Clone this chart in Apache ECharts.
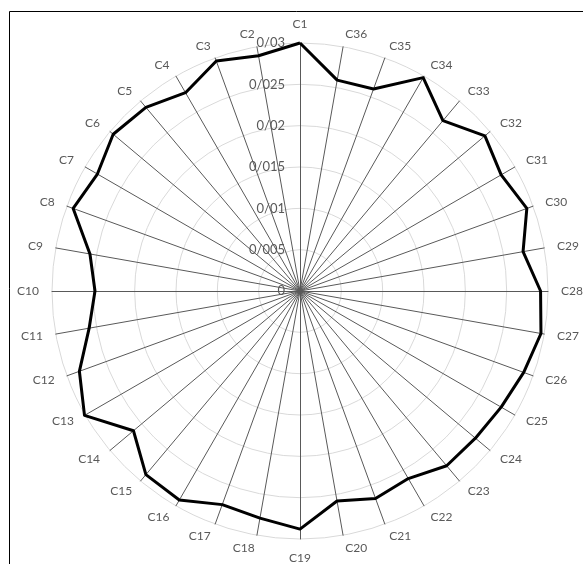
<!DOCTYPE html>
<html>
<head>
<meta charset="utf-8">
<script src="https://cdn.jsdelivr.net/npm/echarts@6/dist/echarts.min.js"></script>
<style>html,body{margin:0;padding:0;background:#fff}#c{width:583px;height:564px}</style>
</head>
<body>
<div id="c"></div>
<script>
var categories = ['C1','C2','C3','C4','C5','C6','C7','C8','C9','C10','C11','C12','C13','C14','C15','C16','C17','C18','C19','C20','C21','C22','C23','C24','C25','C26','C27','C28','C29','C30','C31','C32','C33','C34','C35','C36'];
var values = [0.0300,0.0289,0.0296,0.0277,0.0290,0.0295,0.0283,0.0292,0.0258,0.0248,0.0259,0.0284,0.0301,0.0263,0.0290,0.0292,0.0275,0.0279,0.0288,0.0258,0.0267,0.0262,0.0276,0.0277,0.0281,0.0288,0.0296,0.0291,0.0274,0.0292,0.0281,0.0292,0.0269,0.0298,0.0260,0.0259];
var tickLabels = ['0','0/005','0/01','0/015','0/02','0/025','0/03'];
var axisMax = 0.03;

var chart = echarts.init(document.getElementById('c'));
var indicator = categories.map(function (c, i) {
  var o = { name: c, min: 0, max: axisMax };
  if (i === 0) {
    o.axisLabel = { show: true };
  }
  return o;
});
chart.setOption({
  animation: false,
  graphic: [{
    type: 'rect',
    shape: { x: 9.5, y: 11.5, width: 800, height: 800 },
    style: { fill: 'none', stroke: '#000', lineWidth: 1 },
    silent: true, z: 0
  }],
  radar: {
    center: [300, 291],
    radius: 248,
    shape: 'circle',
    splitNumber: 6,
    startAngle: 90,
    nameGap: 13,
    indicator: indicator,
    axisName: { color: '#595959', fontSize: 12, fontFamily: 'Lato' },
    axisLine: { lineStyle: { color: '#595959', width: 1 } },
    splitLine: { lineStyle: { color: '#d9d9d9', width: 1 } },
    splitArea: { show: false },
    axisTick: { show: false },
    axisLabel: {
      show: false,
      color: '#595959',
      fontSize: 13,
      fontFamily: 'Lato',
      margin: 15,
      formatter: function (v, idx) { return tickLabels[idx]; }
    }
  },
  series: [{
    type: 'radar',
    symbol: 'none',
    lineStyle: { color: '#000', width: 3 },
    data: [{ value: values }]
  }]
});
</script>
</body>
</html>
